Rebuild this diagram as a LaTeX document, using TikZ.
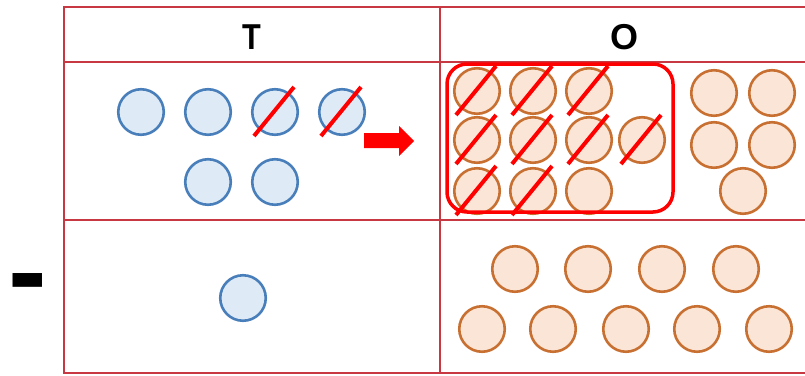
\documentclass[tikz,border=0pt]{standalone}
\usepackage{fontspec}
\setmainfont{Liberation Sans}
\definecolor{tabline}{RGB}{200,56,66}
\definecolor{bfill}{RGB}{222,235,247}
\definecolor{bdraw}{RGB}{72,126,186}
\definecolor{ofill}{RGB}{251,229,214}
\definecolor{odraw}{RGB}{200,112,50}
\definecolor{hred}{RGB}{255,0,0}
\tikzset{
  tab/.style={draw=tabline, line width=2pt},
  bc/.style={circle, draw=bdraw, fill=bfill, line width=2.6pt, minimum size=45.5pt, inner sep=0pt},
  oc/.style={circle, draw=odraw, fill=ofill, line width=2.6pt, minimum size=45.5pt, inner sep=0pt},
  strike/.style={draw=hred, line width=4pt},
  hdr/.style={font=\bfseries\fontsize{36}{36}\selectfont, inner sep=0pt}
}
\begin{document}
\begin{tikzpicture}[x=1pt, y=-1pt]
\useasboundingbox (0,0) rectangle (805,375);
% table
\draw[tab] (805,7) -- (64,7) -- (64,373) -- (805,373);
\draw[tab] (64,62) -- (805,62);
\draw[tab] (64,219.5) -- (805,219.5);
\draw[tab] (440,7) -- (440,373);
% headers
\node[hdr, xscale=0.85] (hT) at (252,37) {T};
\node[hdr] (hO) at (624,37) {O};
\node[font=\bfseries\fontsize{116}{116}\selectfont, inner sep=0pt, anchor=base west] (minus) at (8,310.5) {-};
% blue circles top
\node[bc] (b1) at (141,112) {};
\node[bc] (b2) at (208,112) {};
\node[bc] (b3) at (275,112) {};
\node[bc] (b4) at (342,112) {};
\node[bc] (b5) at (208,182) {};
\node[bc] (b6) at (275,182) {};
\foreach \c in {b3,b4}
  \draw[strike] ([shift={(-21,24)}]\c.center) -- ([shift={(19,-25)}]\c.center);
% arrow
\fill[hred] (364,133) -- (399,133) -- (399,126) -- (414,141) -- (399,156) -- (399,148) -- (364,148) -- cycle;
% orange circles in box
\node[oc] (o11) at (477,91) {};
\node[oc] (o12) at (533,91) {};
\node[oc] (o13) at (589,91) {};
\node[oc] (o21) at (477,140) {};
\node[oc] (o22) at (533,140) {};
\node[oc] (o23) at (589,140) {};
\node[oc] (o24) at (642,140) {};
\node[oc] (o31) at (477,191) {};
\node[oc] (o32) at (533,191) {};
\node[oc] (o33) at (589,191) {};
\foreach \c in {o11,o12,o13,o21,o22,o23,o24,o31,o32}
  \draw[strike] ([shift={(-21,24)}]\c.center) -- ([shift={(19,-25)}]\c.center);
\draw[draw=hred, line width=3.5pt, rounded corners=20pt] (447,64) rectangle (673,212);
% orange circles right group
\node[oc] (r1) at (714,93) {};
\node[oc] (r2) at (772,93) {};
\node[oc] (r3) at (714,145) {};
\node[oc] (r4) at (772,145) {};
\node[oc] (r5) at (743,191) {};
% bottom row
\node[bc] (bb) at (243,298) {};
\node[oc] (p1) at (515,269) {};
\node[oc] (p2) at (588,269) {};
\node[oc] (p3) at (662,269) {};
\node[oc] (p4) at (736,269) {};
\node[oc] (q1) at (482,329) {};
\node[oc] (q2) at (553,329) {};
\node[oc] (q3) at (626,329) {};
\node[oc] (q4) at (697,329) {};
\node[oc] (q5) at (769,329) {};
\end{tikzpicture}
\end{document}
